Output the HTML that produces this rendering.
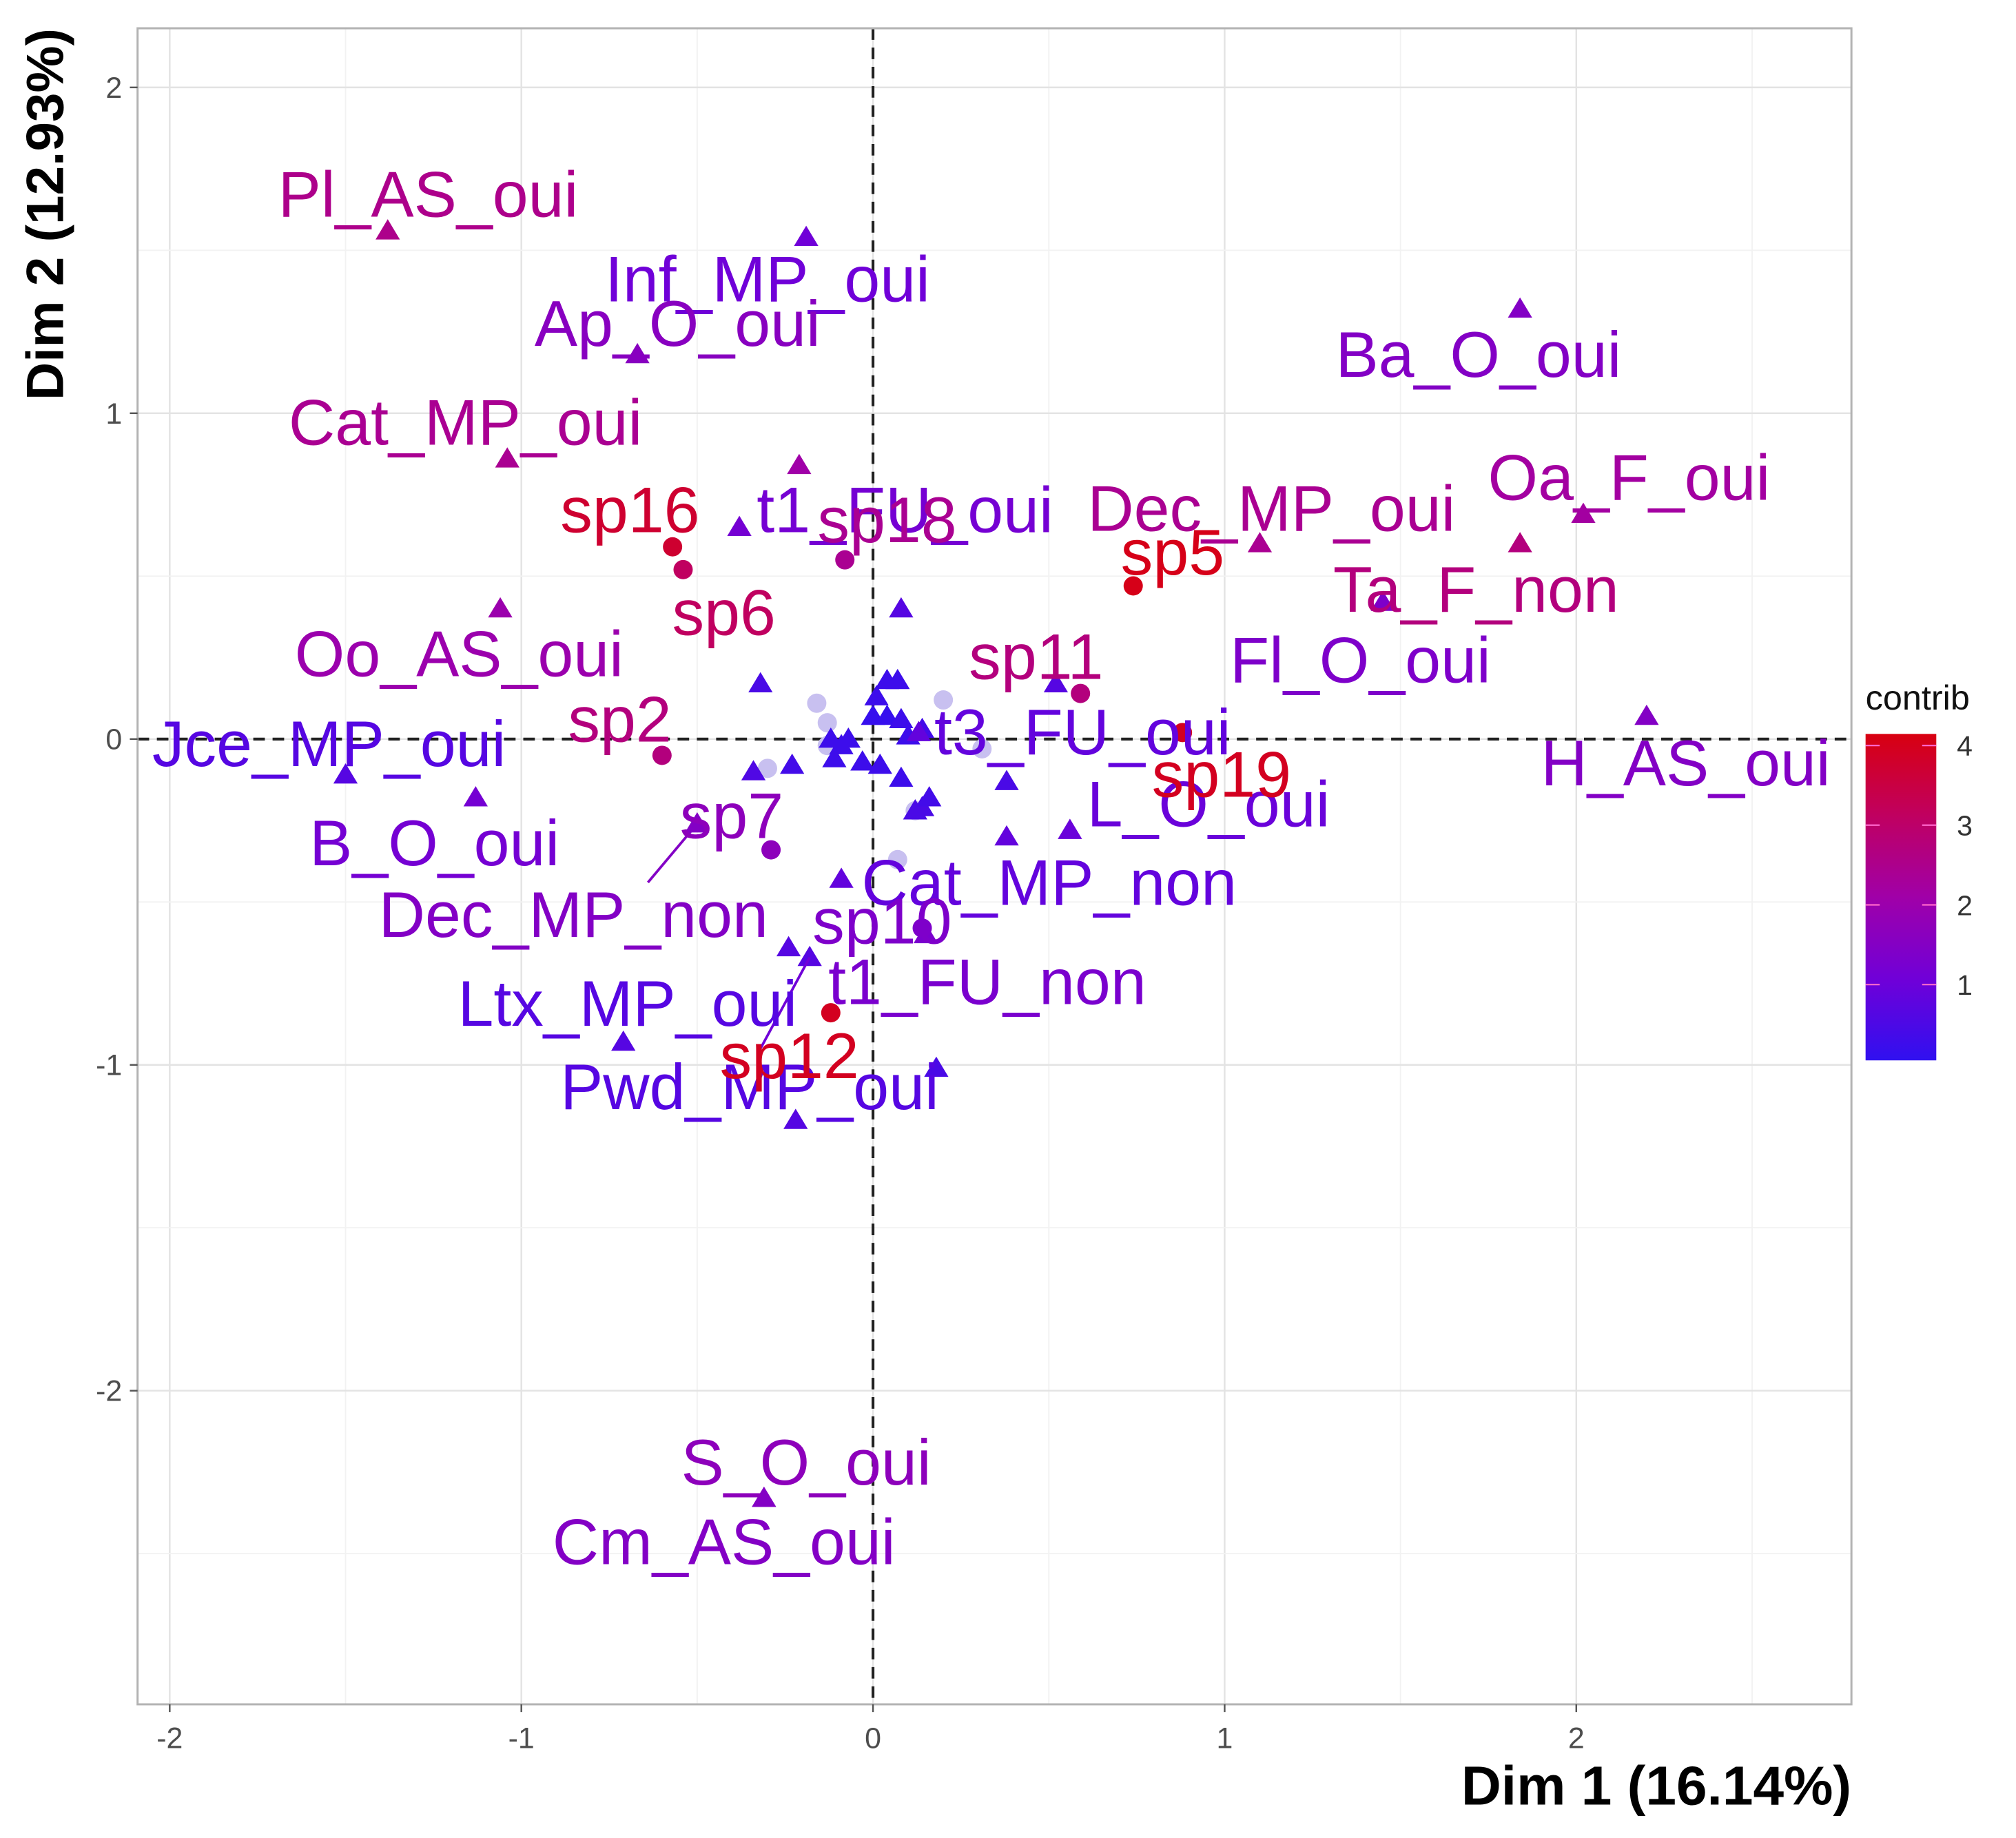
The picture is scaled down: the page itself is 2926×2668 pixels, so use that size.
<!DOCTYPE html>
<html><head><meta charset="utf-8"><style>
html,body{margin:0;padding:0;background:#fff;}
svg{display:block;font-family:"Liberation Sans",sans-serif;}
</style></head><body>
<svg id="chart" width="2926" height="2668" viewBox="0 0 1568 1430" preserveAspectRatio="none" xmlns="http://www.w3.org/2000/svg">
<rect x="0" y="0" width="1568" height="1430" fill="#fff"/>
<g id="grid"></g>
<g id="marks"></g>
<g id="labels"></g>
<g id="axes"></g>
<g id="legend"></g>
</svg>
<script>
// ---- data ----
const labelNames = ["Pl_AS_oui","Inf_MP_oui","Ap_O_oui","Cat_MP_oui","t1_FU_oui","Ba_O_oui","Oa_F_oui","Dec_MP_oui","Ta_F_non","Fl_O_oui","H_AS_oui","Oo_AS_oui","Jce_MP_oui","B_O_oui","Dec_MP_non","t3_FU_oui","L_O_oui","Cat_MP_non","t1_FU_non","Ltx_MP_oui","Pwd_MP_oui","S_O_oui","Cm_AS_oui","sp16","sp6","sp18","sp5","sp11","sp19","sp2","sp7","sp12","sp10"];
const labelType = ["v","v","v","v","v","v","v","v","v","v","v","v","v","v","v","v","v","v","v","v","v","v","v","i","i","i","i","i","i","i","i","i","i"];
const dim1 = [-1.38,-0.19,-0.67,-1.04,-0.38,1.84,2.02,1.10,1.84,1.45,2.20,-1.06,-1.50,-1.13,-0.50,0.13,0.56,-0.09,0.15,-0.71,-0.22,-0.31,-0.31,-0.57,-0.54,-0.08,0.74,0.59,0.88,-0.60,-0.29,-0.12,0.14];
const dim2 = [1.56,1.54,1.18,0.86,0.65,1.32,0.69,0.60,0.60,0.42,0.07,0.40,-0.11,-0.18,-0.26,0.02,-0.28,-0.43,-0.60,-0.93,-1.17,-2.33,-2.33,0.59,0.52,0.55,0.47,0.14,0.02,-0.05,-0.34,-0.84,-0.58];
const contrib = [2.4,1.0,1.5,2.3,1.1,1.4,2.1,2.3,2.6,1.3,1.4,1.9,0.6,1.1,1.4,0.8,0.9,0.8,1.2,0.6,0.6,1.6,1.4,3.6,3.0,2.3,3.9,2.6,3.8,2.6,1.6,3.8,1.3];
const labelX = [-1.265,-0.30,-0.556,-1.159,0.091,1.722,2.150,1.133,1.715,1.386,2.311,-1.177,-1.547,-1.247,-0.852,0.596,0.954,0.501,0.325,-0.698,-0.351,-0.190,-0.424,-0.691,-0.424,0.040,0.852,0.464,0.991,-0.720,-0.402,-0.238,0.026];
const labelY = [1.67,1.41,1.274,0.970,0.702,1.179,0.801,0.706,0.458,0.241,-0.075,0.260,-0.016,-0.320,-0.540,0.020,-0.201,-0.442,-0.746,-0.813,-1.069,-2.221,-2.465,0.702,0.387,0.671,0.572,0.252,-0.110,0.059,-0.237,-0.974,-0.560];
// unlabeled variable categories (triangles)
const extraTriX = [-0.21,-0.32,0.08,0.52,0.38,0.38,-0.24,-0.18,0.18,0.04,0.07,0.01,0.00,0.04,0.08,-0.07,-0.12,-0.09,0.10,0.14,-0.03,-0.11,0.02,0.08,-0.23,-0.34,0.12,0.14,0.16];
const extraTriY = [0.84,0.17,0.40,0.17,-0.13,-0.30,-0.64,-0.67,-1.01,0.18,0.18,0.13,0.07,0.07,0.06,0.00,0.00,-0.02,0.01,0.03,-0.07,-0.06,-0.08,-0.12,-0.08,-0.10,-0.22,-0.21,-0.18];
const extraTriC = [2.0,0.4,0.6,0.6,0.4,0.8,0.6,0.6,0.4,0.2,0.2,0.2,0.1,0.1,0.2,0.2,0.2,0.2,0.2,0.3,0.2,0.2,0.2,0.2,0.3,0.5,0.4,0.4,0.3];
// low-contribution individuals (faded circles)
const fadedX = [-0.16,-0.13,-0.13,-0.30,0.20,0.07,0.12,0.31];
const fadedY = [0.11,0.05,-0.02,-0.09,0.12,-0.37,-0.22,-0.03];
// leader lines (data space)
const leaderFromX = [-0.50, -0.18];
const leaderFromY = [-0.26, -0.67];
const leaderToX = [-0.64, -0.325];
const leaderToY = [-0.44, -0.96];
const leaderC = [1.4, 1.0];
const xTicks = [-2,-1,0,1,2];
const yTicks = [-2,-1,0,1,2];
const legendTicks = [1,2,3,4];

// ---- scales ----
const PL=107, PR=1440, PT=22, PB=1326;
const X0=679, XU=273.5, Y0=575, YU=253.5;
const sx = v => X0 + v*XU;
const sy = v => Y0 - v*YU;
const stops = [[0,[48,16,240]],[1,[112,0,216]],[2,[160,0,168]],[3,[192,0,96]],[4,[216,0,16]]];
function col(c){
  c=Math.max(0,Math.min(4,c));
  for(let i=0;i<stops.length-1;i++){
    const a=stops[i],b=stops[i+1];
    if(c<=b[0]){const t=(c-a[0])/(b[0]-a[0]);
      const r=a[1].map((v,k)=>Math.round(v+(b[1][k]-v)*t));
      return `rgb(${r[0]},${r[1]},${r[2]})`;}
  }
  return 'rgb(216,0,16)';
}
const NS="http://www.w3.org/2000/svg";
function mk(tag,attrs,parent){const e=document.createElementNS(NS,tag);for(const k in attrs)e.setAttribute(k,attrs[k]);parent.appendChild(e);return e;}

// ---- grid ----
const grid=document.getElementById('grid');
for(let v=-2;v<=2.5;v+=0.5){
  const minor = Math.abs(v%1)>0.01;
  const l=mk('line',{x1:sx(v),x2:sx(v),y1:PT,y2:PB,stroke:minor?'#f2f2f2':'#e3e3e3','stroke-width':minor?1:1.3},grid);
  
  
}
for(let v=-3;v<=2;v+=0.5){
  const y=sy(v); if(y<PT||y>PB) continue;
  const minor = Math.abs(v%1)>0.01;
  const l=mk('line',{x1:PL,x2:PR,y1:y,y2:y,stroke:minor?'#f2f2f2':'#e3e3e3','stroke-width':minor?1:1.3},grid);
  
  
}
let zl=mk('line',{x1:sx(0),x2:sx(0),y1:PT,y2:PB,stroke:'#222','stroke-width':2.2,'stroke-dasharray':'9,6'},grid);


zl=mk('line',{x1:PL,x2:PR,y1:sy(0),y2:sy(0),stroke:'#222','stroke-width':2.2,'stroke-dasharray':'9,6'},grid);



// ---- marks ----
const marks=document.getElementById('marks');
function tri(x,y,c,name){
  const cx=sx(x),cy=sy(y),s=9;
  const p=mk('polygon',{points:`${cx},${cy-s} ${cx-s*1.05},${cy+s*0.75} ${cx+s*1.05},${cy+s*0.75}`,fill:col(c)},marks);
  
  
}
function dot(x,y,c,name){
  const e=mk('circle',{cx:sx(x),cy:sy(y),r:7.5,fill:col(c)},marks);
  
  
}
for(let i=0;i<fadedX.length;i++){
  const e=mk('circle',{cx:sx(fadedX[i]),cy:sy(fadedY[i]),r:7.5,fill:'#c8c0f0'},marks);
  
  
}
for(let i=0;i<extraTriX.length;i++) tri(extraTriX[i],extraTriY[i],extraTriC[i],'category-point');
for(let i=0;i<labelNames.length;i++){
  if(labelType[i]==='v') tri(dim1[i],dim2[i],contrib[i],'category-point-'+labelNames[i].toLowerCase());
  else dot(dim1[i],dim2[i],contrib[i],'individual-point-'+labelNames[i]);
}
for(let k=0;k<leaderFromX.length;k++){
  const l=mk('line',{x1:sx(leaderFromX[k]),y1:sy(leaderFromY[k]),x2:sx(leaderToX[k]),y2:sy(leaderToY[k]),stroke:col(leaderC[k]),'stroke-width':2},marks);
  
  
}

// ---- labels ----
const labels=document.getElementById('labels');
for(let i=0;i<labelNames.length;i++){
  const t=mk('text',{x:sx(labelX[i]),y:sy(labelY[i])+17,'text-anchor':'middle','font-size':50,fill:col(contrib[i])},labels);
  t.textContent=labelNames[i];
  
  
}

// ---- axes ----
const axes=document.getElementById('axes');
const fr=mk('rect',{x:PL,y:PT,width:PR-PL,height:PB-PT,fill:'none',stroke:'#b3b3b3','stroke-width':1.6},axes);


for(const v of xTicks){
  const tk=mk('line',{x1:sx(v),x2:sx(v),y1:PB,y2:PB+6,stroke:'#555','stroke-width':1.3},axes);
  
  
  const t=mk('text',{x:sx(v),y:PB+34,'text-anchor':'middle','font-size':23,fill:'#4d4d4d'},axes);
  t.textContent=String(v);
  
  
}
for(const v of yTicks){
  const tk=mk('line',{x1:PL-6,x2:PL,y1:sy(v),y2:sy(v),stroke:'#555','stroke-width':1.3},axes);
  
  
  const t=mk('text',{x:PL-12,y:sy(v)+8,'text-anchor':'end','font-size':23,fill:'#4d4d4d'},axes);
  t.textContent=String(v);
  
  
}
let at=mk('text',{x:PR,y:1404,'text-anchor':'end','font-size':43,'font-weight':'bold',fill:'#000'},axes);
at.textContent='Dim 1 (16.14%)';


at=mk('text',{x:0,y:0,'text-anchor':'end','font-size':41,'font-weight':'bold',fill:'#000',transform:`translate(49,${PT}) rotate(-90)`},axes);
at.textContent='Dim 2 (12.93%)';



// ---- legend ----
const lg=document.getElementById('legend');
const defs=mk('defs',{},lg);
const gr=mk('linearGradient',{id:'cg',x1:0,y1:1,x2:0,y2:0},defs);
for(let c=0;c<=4;c+=0.5){mk('stop',{offset:(c/4),'stop-color':col(c)},gr);}
const LT=571,LB=825,LX=1451,LW=55;
const lsy=v=>828-(828-580)*v/4;
let lt=mk('text',{x:1451,y:552,'font-size':27,fill:'#111'},lg);
lt.textContent='contrib';


const bar=mk('rect',{x:LX,y:LT,width:LW,height:LB-LT,fill:'url(#cg)'},lg);


for(const v of legendTicks){
  const y=lsy(v);
  let l=mk('line',{x1:LX,x2:LX+11,y1:y,y2:y,stroke:'#f6c','stroke-width':1.2},lg);
  
  
  l=mk('line',{x1:LX+LW-11,x2:LX+LW,y1:y,y2:y,stroke:'#f6c','stroke-width':1.2},lg);
  
  
  const t=mk('text',{x:LX+LW+16,y:y+8,'font-size':22,fill:'#333'},lg);
  t.textContent=String(v);
  
  
}
</script>
</body></html>
